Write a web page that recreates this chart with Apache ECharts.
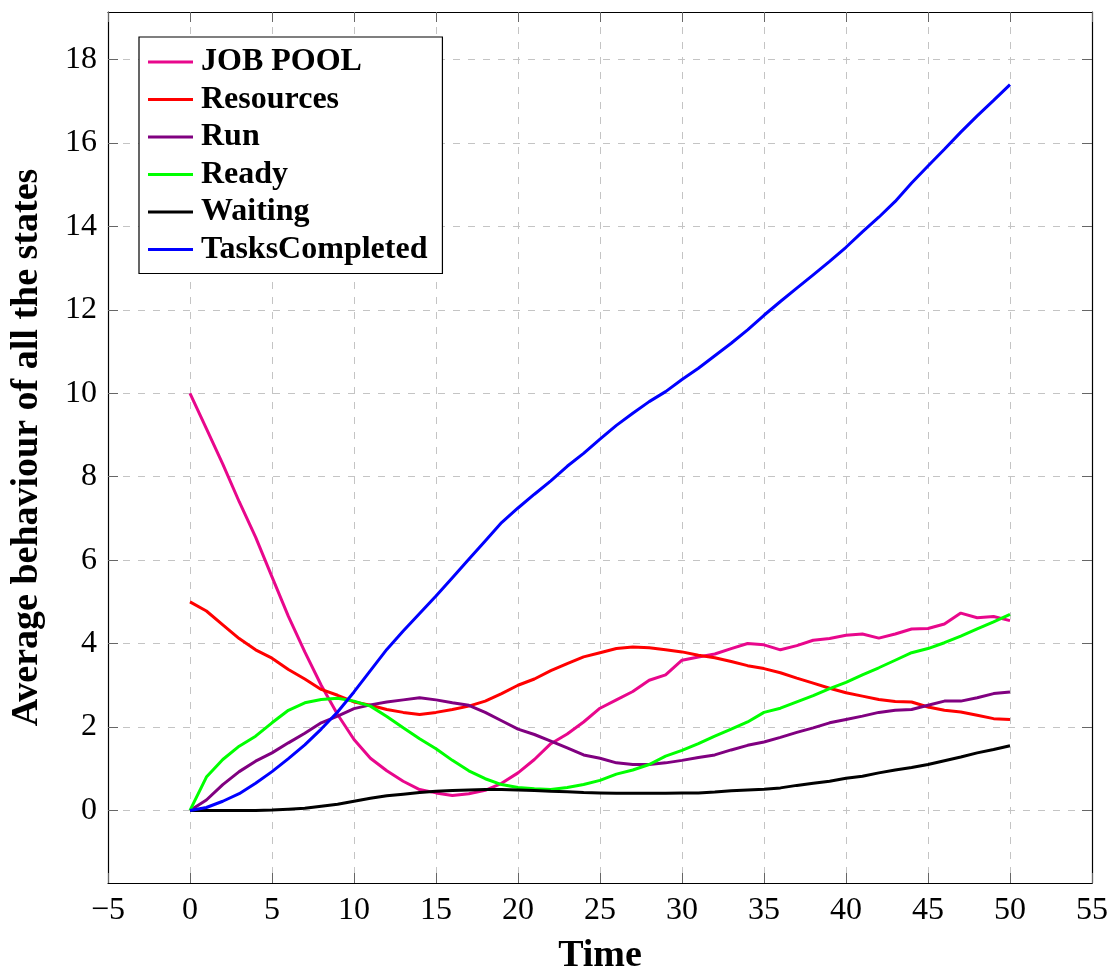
<!DOCTYPE html>
<html>
<head>
<meta charset="utf-8">
<title>Average behaviour of all the states</title>
<script src="https://cdn.jsdelivr.net/npm/echarts@6/dist/echarts.min.js"></script>
<style>
	html, body { margin: 0; padding: 0; background: #fff; }
	#chart { width: 1115px; height: 971px; }
</style>
</head>
<body>
<div id="chart"></div>
<script>
var times = [];
for(var i = 0; i <= 50; i++) {
	times.push(i);
}
var yTicks = [0, 2, 4, 6, 8, 10, 12, 14, 16, 18];
var legendNames = ['JOB POOL', 'Resources', 'Run', 'Ready', 'Waiting', 'TasksCompleted'];
var colors = ['#e8078c', '#ff0000', '#800080', '#00ff00', '#000000', '#0000ff'];

var jobPool = [10, 9.15, 8.3, 7.4, 6.55, 5.6, 4.65, 3.8, 3.0, 2.3,
	1.7, 1.25, 0.95, 0.7, 0.5, 0.42, 0.36, 0.4, 0.48, 0.65,
	0.9, 1.22, 1.6, 1.83, 2.12, 2.45, 2.65, 2.85, 3.12, 3.25,
	3.6, 3.68, 3.75, 3.88, 4.0, 3.97, 3.85, 3.95, 4.08, 4.12,
	4.2, 4.23, 4.13, 4.23, 4.35, 4.36, 4.47, 4.73, 4.62, 4.65, 4.55];
var resources = [5.0, 4.78, 4.45, 4.12, 3.85, 3.65, 3.38, 3.15, 2.9, 2.76,
	2.6, 2.52, 2.42, 2.35, 2.3, 2.35, 2.42, 2.5, 2.62, 2.8,
	3.0, 3.15, 3.35, 3.52, 3.68, 3.78, 3.88, 3.92, 3.9, 3.85,
	3.8, 3.72, 3.66, 3.57, 3.47, 3.4, 3.3, 3.17, 3.05, 2.93,
	2.82, 2.74, 2.66, 2.61, 2.6, 2.48, 2.4, 2.36, 2.28, 2.2, 2.18];
var run = [0, 0.25, 0.62, 0.93, 1.18, 1.38, 1.62, 1.85, 2.1, 2.26,
	2.44, 2.53, 2.6, 2.65, 2.7, 2.65, 2.58, 2.52, 2.35, 2.15,
	1.95, 1.82, 1.66, 1.5, 1.33, 1.25, 1.14, 1.1, 1.1, 1.14,
	1.2, 1.27, 1.33, 1.45, 1.56, 1.64, 1.75, 1.87, 1.98, 2.1,
	2.18, 2.26, 2.35, 2.4, 2.42, 2.52, 2.62, 2.62, 2.7, 2.8, 2.84];
var ready = [0, 0.8, 1.22, 1.54, 1.78, 2.1, 2.4, 2.58, 2.66, 2.69,
	2.62, 2.5, 2.25, 1.98, 1.72, 1.48, 1.2, 0.95, 0.76, 0.62,
	0.55, 0.52, 0.5, 0.55, 0.62, 0.72, 0.87, 0.97, 1.1, 1.3,
	1.44, 1.6, 1.78, 1.95, 2.12, 2.35, 2.45, 2.6, 2.75, 2.92,
	3.07, 3.25, 3.42, 3.6, 3.78, 3.88, 4.02, 4.18, 4.35, 4.52, 4.7];
var waiting = [0, 0, 0, 0, 0, 0.01, 0.03, 0.05, 0.1, 0.15,
	0.22, 0.29, 0.35, 0.39, 0.43, 0.46, 0.48, 0.49, 0.5, 0.5,
	0.49, 0.48, 0.46, 0.45, 0.43, 0.42, 0.41, 0.41, 0.41, 0.41,
	0.42, 0.42, 0.44, 0.47, 0.49, 0.51, 0.54, 0.6, 0.65, 0.7,
	0.77, 0.82, 0.9, 0.97, 1.03, 1.1, 1.19, 1.28, 1.38, 1.46, 1.55];
var tasksCompleted = [0, 0.07, 0.22, 0.4, 0.65, 0.93, 1.24, 1.57, 1.95, 2.36,
	2.84, 3.35, 3.86, 4.3, 4.72, 5.14, 5.58, 6.02, 6.46, 6.9,
	7.25, 7.58, 7.9, 8.25, 8.56, 8.9, 9.23, 9.52, 9.8, 10.04,
	10.33, 10.6, 10.9, 11.2, 11.52, 11.87, 12.2, 12.52, 12.84, 13.16,
	13.5, 13.87, 14.22, 14.6, 15.04, 15.45, 15.85, 16.26, 16.65, 17.02, 17.4];

var allData = [jobPool, resources, run, ready, waiting, tasksCompleted];

var serifFont = '"Liberation Serif", "DejaVu Serif", serif';
var gridStyle = { color: '#c4c4c4', width: 1, type: [7, 8] };
var frameLine = { show: true, onZero: false, lineStyle: { color: '#000', width: 1.2 } };
var innerTick = { show: true, inside: true, length: 10, lineStyle: { color: '#666', width: 1 } };

function minusLabel(v) {
	return String(v).replace('-', '\u2212');
}

function getSeries() {
	var list = [];
	for(var m = 0; m < allData.length; m++) {
		var pts = [];
		for(var k = 0; k < times.length; k++) {
			pts.push([times[k], allData[m][k]]);
		}
		list.push({
			name: legendNames[m],
			type: 'line',
			data: pts,
			symbol: 'none',
			smooth: false,
			lineStyle: { width: 3, color: colors[m] },
			itemStyle: { color: colors[m] },
			z: 10 + m
		});
	}
	return list;
}

var chart = echarts.init(document.getElementById('chart'), null, { renderer: 'canvas' });
chart.setOption({
	animation: false,
	backgroundColor: '#fff',
	color: colors,
	grid: { left: 108, right: 23, top: 12, bottom: 88, containLabel: false, outerBoundsMode: 'none' },
	legend: {
		orient: 'vertical',
		left: 139,
		top: 37,
		data: legendNames,
		icon: 'rect',
		itemWidth: 45,
		itemHeight: 3,
		itemGap: 5.5,
		padding: [9, 15, 8, 9],
		borderColor: '#000',
		borderWidth: 1.2,
		backgroundColor: '#fff',
		textStyle: { fontFamily: serifFont, fontWeight: 'bold', fontSize: 32, color: '#000', lineHeight: 32, padding: [0, 0, 0, 3] }
	},
	xAxis: [{
		type: 'value',
		min: -5,
		max: 55,
		interval: 5,
		name: 'Time',
		nameLocation: 'middle',
		nameGap: 54,
		nameTextStyle: { fontFamily: serifFont, fontWeight: 'bold', fontSize: 38, color: '#000' },
		axisLine: frameLine,
		axisTick: innerTick,
		splitLine: { show: true, lineStyle: gridStyle },
		axisLabel: { fontFamily: serifFont, fontSize: 32, color: '#000', margin: 12, formatter: minusLabel }
	}, {
		type: 'value',
		position: 'top',
		min: -5,
		max: 55,
		interval: 5,
		axisLine: frameLine,
		axisTick: innerTick,
		splitLine: { show: false },
		axisLabel: { show: false }
	}],
	yAxis: [{
		type: 'value',
		min: -1.74,
		max: 19.14,
		name: 'Average behaviour of all the states',
		nameLocation: 'middle',
		nameGap: 62,
		nameTextStyle: { fontFamily: serifFont, fontWeight: 'bold', fontSize: 38, color: '#000' },
		axisLine: frameLine,
		axisTick: { show: true, inside: true, length: 10, lineStyle: { color: '#666', width: 1 }, customValues: yTicks },
		splitLine: { show: true, lineStyle: gridStyle, customValues: yTicks },
		axisLabel: { fontFamily: serifFont, fontSize: 32, color: '#000', margin: 11, customValues: yTicks, formatter: minusLabel }
	}, {
		type: 'value',
		position: 'right',
		min: -1.74,
		max: 19.14,
		axisLine: frameLine,
		axisTick: { show: true, inside: true, length: 10, lineStyle: { color: '#666', width: 1 }, customValues: yTicks },
		splitLine: { show: false },
		axisLabel: { show: false }
	}],
	series: getSeries()
});
</script>
</body>
</html>
